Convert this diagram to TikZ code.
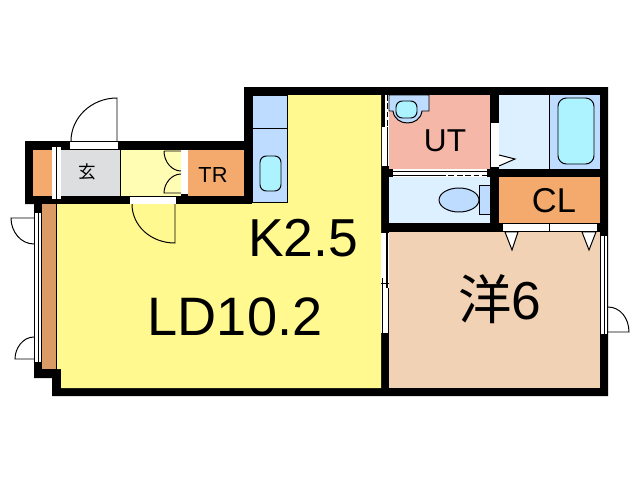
\documentclass[tikz,border=0pt]{standalone}
\usepackage{fontspec}
\setmainfont{Liberation Sans}
\newfontfamily\cjk{Noto Sans CJK JP}
\definecolor{ldyellow}{HTML}{FFF98F}
\definecolor{paleyellow}{HTML}{FFFDB4}
\definecolor{entrygray}{HTML}{DCDEE0}
\definecolor{storeorange}{HTML}{F4AA6C}
\definecolor{sillbrown}{HTML}{DA9B67}
\definecolor{utpink}{HTML}{F5B8A8}
\definecolor{wetblue}{HTML}{DDF0FF}
\definecolor{fitblue}{HTML}{BDDCFF}
\definecolor{tubcyan}{HTML}{ADF3FF}
\definecolor{roompeach}{HTML}{F2D2B5}
\tikzset{
  fine/.style={draw=black,line width=0.7pt},
  fitting/.style={fill=fitblue,fine},
  basin/.style={fill=tubcyan,fine,rounded corners=4.5pt},
  label/.style={inner sep=0pt,text=black},
}
\begin{document}
\begin{tikzpicture}[x=0.025cm,y=-0.025cm]
  \useasboundingbox (0,0) rectangle (640,480);
  % walls
  \fill[black] (25,141) -- (244,141) -- (244,87) -- (608,87) -- (608,396) -- (52,396) -- (52,378) -- (34,378) -- (34,204) -- (25,204) -- cycle;
  % rooms
  \fill[ldyellow] (57,204) -- (252,204) -- (252,95) -- (381,95) -- (381,388) -- (61,388) -- (61,369) -- (57,369) -- cycle;
  \fill[storeorange] (33,150) rectangle (52,196);
  \fill[entrygray] (61,150) rectangle (120,196);
  \fill[paleyellow] (120,150) rectangle (181,196);
  \fill[storeorange] (188,150) rectangle (244,196);
  \fill[utpink] (389,95) rectangle (490,169);
  \fill[wetblue] (499,95) rectangle (600,169);
  \fill[wetblue] (389,177) rectangle (490,223);
  \fill[storeorange] (499,177) rectangle (600,223);
  \fill[roompeach] (389,232) rectangle (600,388);
  \fill[sillbrown] (42,204) rectangle (56,369);
  \draw[fine] (56.5,204) -- (56.5,369);
  \draw[fine] (120,150) -- (120,196);
  % openings
  \fill[white] (52,147) rectangle (61,199);
  \draw[fine] (56.5,147) -- (56.5,199);
  \fill[white] (70,142) rectangle (118,149);
  \fill[white] (130,197) rectangle (176,204);
  \fill[white] (181,150) rectangle (188,194);
  \fill[white] (34,213) rectangle (42,362);
  \draw[fine] (34.3,213) -- (34.3,362) (38,213) -- (38,362) (41.7,213) -- (41.7,362);
  \fill[white] (600,236) rectangle (608,334);
  \draw[fine] (600.3,236) -- (600.3,334) (604,236) -- (604,334) (607.7,236) -- (607.7,334);
  \fill[white] (381,233) rectangle (389,333);
  \draw[line width=1.2pt] (382.5,278) -- (382.5,333) (387,233) -- (387,288);
  \draw[fine] (381,283) -- (389,283) (388.7,288) -- (388.7,333);
  \fill[white] (385,95) rectangle (389,127);
  \draw[fine,dashed,dash pattern=on 4pt off 2pt] (387,95) -- (387,127);
  \fill[white] (382,127) rectangle (389,166);
  \draw[fine] (387,127) -- (387,166);
  \fill[white] (393,169) rectangle (487,177);
  \draw[fine] (393,171) -- (487,171);
  \draw[fine] (393,175) -- (440,175);
  \draw[fine,dashed,dash pattern=on 4pt off 2pt] (440,175) -- (487,175);
  \fill[white] (491,123) rectangle (499,167);
  \fill[white] (503,224) rectangle (597,231);
  \draw[fine] (549,223) -- (549,232);
  % doors
  \draw[fine] (117,141) -- (117,98) .. controls (91,98) and (71,118) .. (71,141);
  \draw[fine] (175,204) -- (175,243) .. controls (151,243) and (132,226) .. (132,204);
  \draw[fine] (164,151) -- (181,151) (164,151) .. controls (164,162) and (172,171) .. (181,171);
  \draw[fine] (181,174) .. controls (172,174) and (164,183) .. (164,193) -- (181,193);
  \draw[fine] (34,218) -- (11,218) .. controls (11,232) and (21,244) .. (34,244);
  \draw[fine] (34,359) -- (15,359) .. controls (15,348) and (23,337) .. (34,337);
  \draw[fine] (608,332) -- (629,332) .. controls (629,318) and (620,307) .. (608,307);
  \draw[fine,fill=white] (499,155) -- (515,159) -- (499,166);
  \draw[fine,fill=white] (505,232) -- (518,232) -- (512,250) -- cycle;
  \draw[fine,fill=white] (582,232) -- (596,232) -- (589,250) -- cycle;
  % kitchen
  \draw[fitting] (252,95) rectangle (287,128);
  \draw[fitting] (252,128) rectangle (287,202);
  \draw[basin] (260,156) rectangle (281,191);
  % wash room
  \draw[fitting] (389,95) -- (429,95) -- (429,111) -- (422,111) .. controls (420,127) and (395,127) .. (393,111) -- (389,111) -- cycle;
  \draw[basin] (396,101) rectangle (417,118);
  \fill[fitblue] (549,95) rectangle (600,169);
  \draw[fine] (549,95) -- (549,169);
  \draw[basin,rounded corners=6pt] (558,98) rectangle (594,164);
  % toilet
  \draw[fitting] (459,200) ellipse (20 and 12);
  \draw[fitting] (479,185) rectangle (490,214);
  % labels
  \node[label,font=\fontsize{38}{38}\selectfont] (kitchen) at (303,238) {K2.5};
  \node[label,font=\fontsize{38.5}{38}\selectfont] (living) at (235,317) {LD10.2};
  \node[label,font=\fontsize{22.5}{22}\selectfont] (ut) at (445,141) {UT};
  \node[label,font=\fontsize{15.5}{15}\selectfont] (tr) at (213,175) {TR};
  \node[label,font=\fontsize{24.5}{24}\selectfont] (cl) at (554,201) {CL};
  \node[label,font=\fontsize{38}{38}\selectfont] (western) at (500,299) {{\cjk 洋}6};
  \node[label,font=\fontsize{12.5}{12}\selectfont] (entry) at (87,172) {\cjk 玄};
\end{tikzpicture}
\end{document}
